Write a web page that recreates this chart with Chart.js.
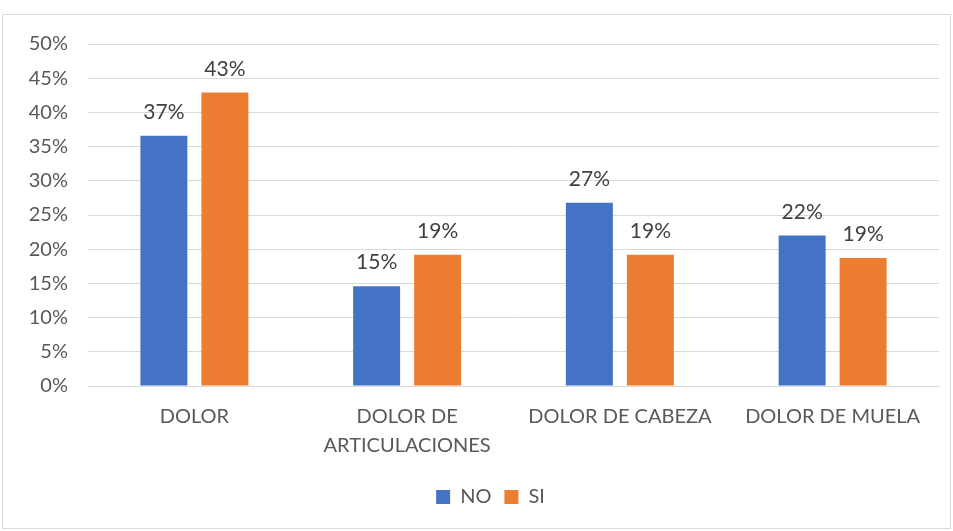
<!DOCTYPE html>
<html>
<head>
<meta charset="utf-8">
<title>Dolor</title>
<script src="https://cdn.jsdelivr.net/npm/chart.js@4.4.1/dist/chart.umd.min.js"></script>
<style>
  body { margin: 0; background: #fff; }
  #wrap { width: 953px; height: 531px; }
</style>
</head>
<body>
<div id="wrap"><canvas id="chart" width="953" height="531"></canvas></div>
<script>
// data
var categories = ['DOLOR', ['DOLOR DE', 'ARTICULACIONES'], 'DOLOR DE CABEZA', 'DOLOR DE MUELA'];
var no_values = [36.6, 14.6, 26.8, 22.0];
var si_values = [42.9, 19.2, 19.2, 18.7];
var y_ticks = [0, 5, 10, 15, 20, 25, 30, 35, 40, 45, 50];

var fontName = "Lato, 'Open Sans', sans-serif";
var textColor = '#595959';

// grey frame around the whole chart
var framePlugin = {
  id: 'frame',
  beforeDraw: function (chart) {
    var ctx = chart.ctx;
    ctx.save();
    ctx.fillStyle = '#fff';
    ctx.fillRect(0, 0, chart.width, chart.height);
    ctx.strokeStyle = '#d9d9d9';
    ctx.lineWidth = 1;
    ctx.strokeRect(2.5, 14.5, 948, 514);
    ctx.restore();
  },
  afterLayout: function (chart) {
    // legend sits a bit right of centre in the original
    chart.legend.left += 16;
    chart.legend.right += 16;
  }
};

// value labels above the bars
var labelPlugin = {
  id: 'valueLabels',
  afterDatasetsDraw: function (chart) {
    var ctx = chart.ctx;
    ctx.save();
    ctx.font = '21px ' + fontName;
    ctx.fillStyle = '#404040';
    ctx.textAlign = 'center';
    ctx.textBaseline = 'alphabetic';
    chart.data.datasets.forEach(function (ds, i) {
      var meta = chart.getDatasetMeta(i);
      meta.data.forEach(function (bar, j) {
        ctx.fillText(Math.round(ds.data[j]) + '%', bar.x, bar.y - 17);
      });
    });
    ctx.restore();
  }
};

var ctx = document.getElementById('chart').getContext('2d');
var chart = new Chart(ctx, {
  type: 'bar',
  data: {
    labels: categories,
    datasets: [
      { label: 'NO', data: no_values, backgroundColor: '#4472C4' },
      { label: 'SI', data: si_values, backgroundColor: '#ED7D31' }
    ]
  },
  options: {
    responsive: false,
    animation: false,
    categoryPercentage: 0.5735,
    barPercentage: 0.77,
    layout: { padding: { top: 44, right: 14, bottom: 14, left: 10 } },
    plugins: {
      tooltip: { enabled: false },
      legend: {
        position: 'bottom',
        labels: {
          color: textColor,
          font: { family: fontName, size: 20 },
          boxWidth: 14,
          boxHeight: 14,
          padding: 13
        }
      }
    },
    scales: {
      x: {
        grid: { display: false, drawTicks: false },
        border: { color: '#d9d9d9', width: 1 },
        ticks: {
          color: textColor,
          font: { family: fontName, size: 20, lineHeight: 1.45 },
          padding: 16,
          maxRotation: 0,
          autoSkip: false
        },
        afterFit: function (s) { s.height = 88; }
      },
      y: {
        min: 0,
        max: 50,
        afterBuildTicks: function (s) {
          s.ticks = y_ticks.map(function (v) { return { value: v }; });
        },
        grid: { color: '#d9d9d9', drawTicks: false },
        border: { display: false },
        ticks: {
          color: textColor,
          font: { family: fontName, size: 20 },
          padding: 20,
          callback: function (v) { return v + '%'; }
        },
        afterFit: function (s) { s.width = 78; }
      }
    }
  },
  plugins: [framePlugin, labelPlugin]
});
</script>
</body>
</html>
